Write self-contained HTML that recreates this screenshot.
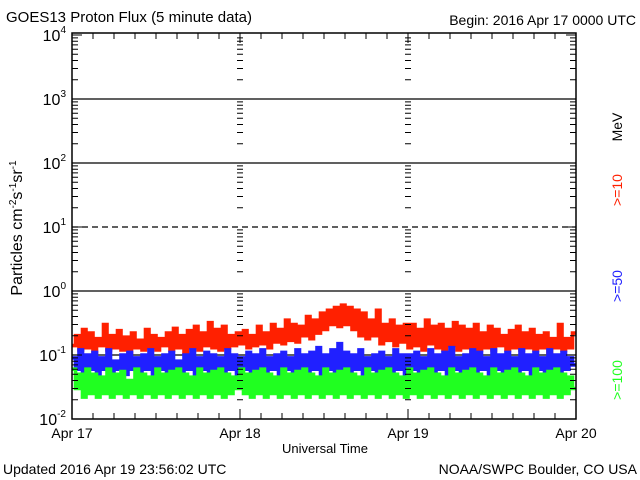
<!DOCTYPE html>
<html><head><meta charset="utf-8"><style>
html,body{margin:0;padding:0;background:#fff;}
svg{display:block;font-family:"Liberation Sans",sans-serif;}
</style></head><body>
<svg id="chart" width="640" height="480" viewBox="0 0 640 480">
<text x="6" y="22" font-size="15">GOES13 Proton Flux (5 minute data)</text>
<text x="636" y="25" font-size="14" text-anchor="end">Begin: 2016 Apr 17 0000 UTC</text>
<text x="3" y="474" font-size="14">Updated 2016 Apr 19 23:56:02 UTC</text>
<text x="637" y="474" font-size="14" text-anchor="end">NOAA/SWPC Boulder, CO USA</text>
<text x="325" y="453" font-size="13" text-anchor="middle">Universal Time</text>
<text transform="translate(22,228) rotate(-90)" font-size="16" text-anchor="middle">Particles cm<tspan font-size="10" dy="-6">-2</tspan><tspan dy="6">s</tspan><tspan font-size="10" dy="-6">-1</tspan><tspan dy="6">sr</tspan><tspan font-size="10" dy="-6">-1</tspan></text>
<text transform="translate(622,127) rotate(-90)" font-size="14" text-anchor="middle">MeV</text>
<text transform="translate(622,190) rotate(-90)" font-size="14" fill="#ff2000" text-anchor="middle">&gt;=10</text>
<text transform="translate(622,286) rotate(-90)" font-size="14" fill="#2020ff" text-anchor="middle">&gt;=50</text>
<text transform="translate(622,380) rotate(-90)" font-size="14" fill="#20ff20" text-anchor="middle">&gt;=100</text>
<g id="grid"></g>
<g id="series"></g>
<g id="axes"></g>
</svg>
<script>
const dayLabels = ["Apr 17","Apr 18","Apr 19","Apr 20"];
const decadeExps = [-2,-1,0,1,2,3,4];
const p10 = [0.14,0.2,0.12,0.25,0.13,0.22,0.11,0.18,0.14,0.3,0.12,0.2,0.13,0.24,0.12,0.19,0.11,0.22,0.13,0.17,0.12,0.25,0.13,0.2,0.12,0.18,0.14,0.22,0.12,0.26,0.13,0.2,0.11,0.24,0.13,0.28,0.12,0.22,0.14,0.32,0.13,0.25,0.12,0.28,0.13,0.2,0.14,0.22,
0.15,0.24,0.13,0.2,0.14,0.28,0.15,0.22,0.13,0.3,0.16,0.25,0.15,0.35,0.17,0.3,0.16,0.28,0.2,0.4,0.18,0.35,0.22,0.45,0.25,0.5,0.3,0.55,0.28,0.6,0.3,0.55,0.25,0.5,0.2,0.45,0.18,0.35,0.2,0.5,0.15,0.3,0.17,0.35,0.14,0.28,0.16,0.3,
0.13,0.3,0.14,0.25,0.12,0.35,0.15,0.28,0.13,0.3,0.12,0.25,0.14,0.32,0.12,0.28,0.13,0.25,0.11,0.3,0.12,0.22,0.13,0.28,0.12,0.25,0.14,0.2,0.12,0.24,0.13,0.28,0.12,0.22,0.13,0.25,0.12,0.2,0.13,0.22,0.11,0.18,0.13,0.3,0.12,0.18,0.13,0.22];
const p50 = [0.09,0.06,0.12,0.05,0.1,0.06,0.11,0.05,0.09,0.06,0.12,0.05,0.08,0.06,0.1,0.05,0.11,0.06,0.09,0.05,0.1,0.06,0.12,0.05,0.09,0.06,0.1,0.05,0.11,0.06,0.08,0.05,0.1,0.06,0.12,0.05,0.09,0.06,0.11,0.05,0.1,0.06,0.09,0.05,0.12,0.06,0.1,0.05,
0.09,0.06,0.11,0.05,0.1,0.06,0.12,0.05,0.09,0.06,0.1,0.05,0.11,0.06,0.09,0.05,0.12,0.06,0.1,0.05,0.11,0.06,0.13,0.05,0.1,0.06,0.12,0.05,0.15,0.06,0.11,0.05,0.1,0.06,0.12,0.05,0.09,0.06,0.1,0.05,0.11,0.06,0.09,0.05,0.12,0.06,0.1,0.05,
0.1,0.06,0.11,0.05,0.09,0.06,0.12,0.05,0.1,0.06,0.11,0.05,0.13,0.06,0.09,0.05,0.1,0.06,0.12,0.05,0.11,0.06,0.09,0.05,0.12,0.06,0.1,0.05,0.11,0.06,0.09,0.05,0.12,0.06,0.1,0.05,0.11,0.06,0.09,0.05,0.12,0.06,0.1,0.05,0.11,0.06,0.09,0.07];
const p100 = [0.06,0.03,0.05,0.022,0.06,0.025,0.05,0.022,0.045,0.025,0.06,0.022,0.05,0.025,0.055,0.022,0.04,0.025,0.06,0.022,0.05,0.025,0.045,0.022,0.06,0.025,0.05,0.022,0.055,0.025,0.06,0.022,0.05,0.025,0.045,0.022,0.06,0.025,0.05,0.022,0.055,0.025,0.06,0.022,0.05,0.025,0.045,0.03,
0.06,0.025,0.05,0.022,0.055,0.025,0.06,0.022,0.05,0.025,0.045,0.022,0.06,0.025,0.05,0.022,0.055,0.025,0.06,0.022,0.05,0.025,0.045,0.022,0.06,0.025,0.05,0.022,0.055,0.025,0.06,0.022,0.05,0.025,0.045,0.022,0.06,0.025,0.05,0.022,0.055,0.025,0.06,0.022,0.05,0.025,0.045,0.022,
0.06,0.025,0.05,0.022,0.055,0.025,0.06,0.022,0.05,0.025,0.045,0.022,0.06,0.025,0.05,0.022,0.055,0.025,0.06,0.022,0.05,0.025,0.045,0.022,0.06,0.025,0.05,0.022,0.055,0.025,0.06,0.022,0.05,0.025,0.045,0.022,0.06,0.025,0.05,0.022,0.055,0.025,0.06,0.022,0.05,0.025,0.045,0.03];

const X0=72, X1=576, Y0=419, DEC=64;
const xScale = d => X0 + (X1-X0)*d/3;          // d in days
const yScale = v => Y0 - (Math.log10(v)+2)*DEC;
const NS="http://www.w3.org/2000/svg";
function mk(tag, attrs, parent){const e=document.createElementNS(NS,tag);for(const k in attrs)e.setAttribute(k,attrs[k]);parent.appendChild(e);return e;}
const grid=document.getElementById('grid'), axes=document.getElementById('axes'), series=document.getElementById('series');

decadeExps.forEach(ex=>{
  const y=yScale(Math.pow(10,ex));
  if(ex>-2 && ex<4){
    const l=mk('line',{x1:X0,x2:X1,y1:y,y2:y,stroke:'#000','stroke-width':1.3,'stroke-dasharray':ex===1?'6,4':'none'},grid);
    
    
  }
  const t=mk('text',{x:X0-6,y:y+6,'font-size':16,'text-anchor':'end'},axes);
  
  
  t.innerHTML='10<tspan font-size="10" dy="-8">'+(ex<0?'-'+(-ex):ex)+'</tspan>';
});
let tick='';
for(let ex=-2;ex<4;ex++){for(let m=2;m<10;m++){
  const y=yScale(m*Math.pow(10,ex));
  tick+=`M${X0} ${y}h6M${X1} ${y}h-6`;
  [1,2].forEach(d=>{const x=xScale(d);tick+=`M${x-3} ${y}h6`;});
}}
decadeExps.forEach(ex=>{const y=yScale(Math.pow(10,ex));tick+=`M${X0} ${y}h10M${X1} ${y}h-10`;});
for(let h=0;h<=72;h+=3){const x=xScale(h/24);const len=h%24===0?10:6;tick+=`M${x} ${Y0}v-${len}M${x} 33v${len}`;}
const tp=mk('path',{d:tick,stroke:'#000','stroke-width':1,fill:'none'},axes);


const fr=mk('rect',{x:X0,y:33,width:X1-X0,height:Y0-33,fill:'none',stroke:'#000','stroke-width':1.5},axes);


dayLabels.forEach((lab,i)=>{
  const t=mk('text',{x:xScale(i),y:438,'font-size':14,'text-anchor':'middle'},axes);
  
  
  t.textContent=lab;
});
[[p10,'#ff2000','series-10mev'],[p50,'#2020ff','series-50mev'],[p100,'#20ff20','series-100mev']].forEach(([arr,col,name])=>{
  const n=arr.length;
  let d='';
  arr.forEach((v,i)=>{
    const xa=xScale(3*i/n), xb=xScale(3*(i+1)/n), y=yScale(v);
    d+=(i===0?'M':'L')+xa.toFixed(1)+' '+y.toFixed(1)+'L'+xb.toFixed(1)+' '+y.toFixed(1);
  });
  const pl=mk('path',{d:d,fill:'none',stroke:col,'stroke-width':3.6,'stroke-linejoin':'miter'},series);
  
  
});
</script>
</body></html>
